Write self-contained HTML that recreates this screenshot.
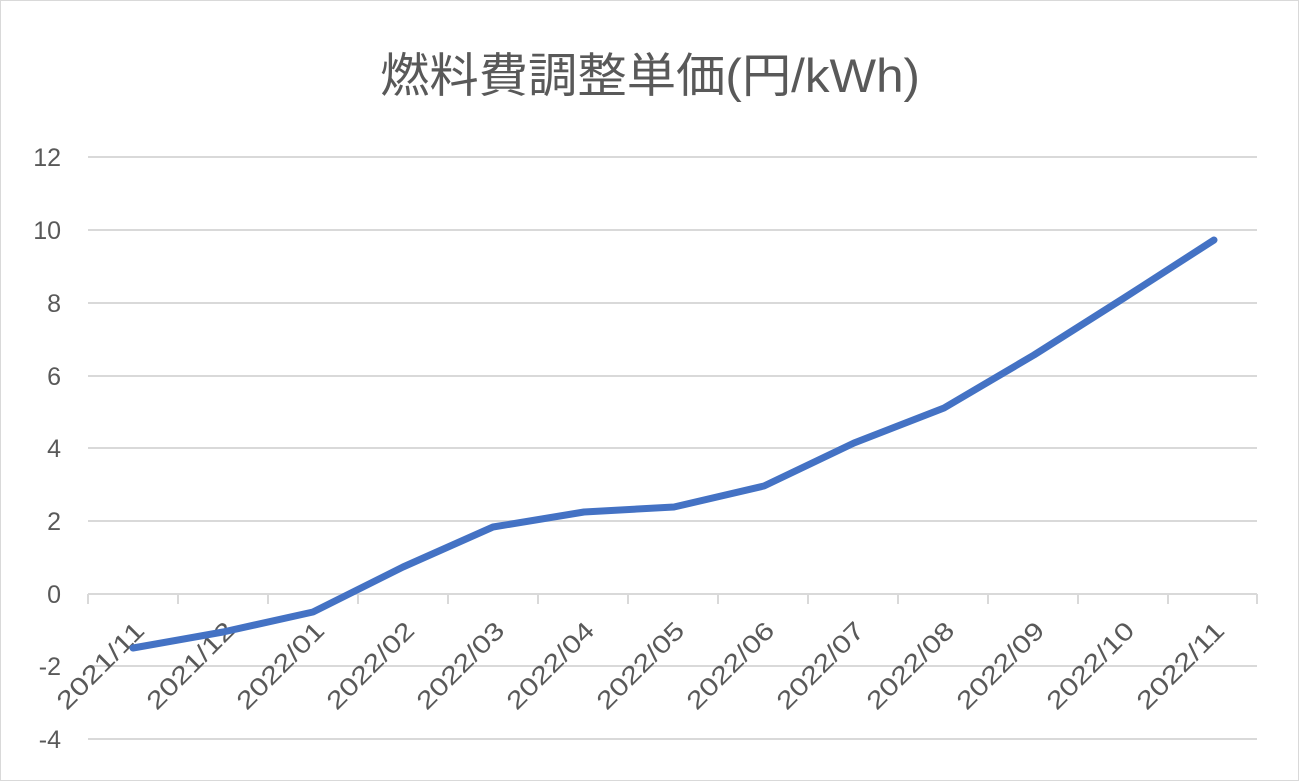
<!DOCTYPE html>
<html><head><meta charset="utf-8"><style>
html,body{margin:0;padding:0;background:#fff;}
svg{display:block;}
text{font-family:"Liberation Sans","Noto Sans CJK JP",sans-serif;fill:#595959;}
</style></head><body>
<svg width="1299" height="781" viewBox="0 0 1299 781">
<rect x="0.5" y="0.5" width="1298" height="780" fill="#fff" stroke="#d9d9d9"/>
<text x="650" y="92" font-size="47" text-anchor="middle" textLength="540" lengthAdjust="spacingAndGlyphs">燃料費調整単価(円/kWh)</text>
<g stroke="#d9d9d9" stroke-width="2">
<line x1="88" x2="1257" y1="157" y2="157"/>
<line x1="88" x2="1257" y1="230" y2="230"/>
<line x1="88" x2="1257" y1="303" y2="303"/>
<line x1="88" x2="1257" y1="376" y2="376"/>
<line x1="88" x2="1257" y1="448" y2="448"/>
<line x1="88" x2="1257" y1="521" y2="521"/>
<line x1="88" x2="1257" y1="666" y2="666"/>
<line x1="88" x2="1257" y1="739" y2="739"/>
<line x1="88" x2="1257" y1="594" y2="594"/>
<line x1="88" x2="88" y1="594" y2="604"/><line x1="178" x2="178" y1="594" y2="604"/>
<line x1="268" x2="268" y1="594" y2="604"/><line x1="358" x2="358" y1="594" y2="604"/>
<line x1="448" x2="448" y1="594" y2="604"/><line x1="538" x2="538" y1="594" y2="604"/>
<line x1="628" x2="628" y1="594" y2="604"/><line x1="718" x2="718" y1="594" y2="604"/>
<line x1="808" x2="808" y1="594" y2="604"/><line x1="898" x2="898" y1="594" y2="604"/>
<line x1="988" x2="988" y1="594" y2="604"/><line x1="1078" x2="1078" y1="594" y2="604"/>
<line x1="1168" x2="1168" y1="594" y2="604"/><line x1="1257" x2="1257" y1="594" y2="604"/>
</g>
<g font-size="25" text-anchor="end">
<text x="61" y="166">12</text><text x="61" y="239">10</text><text x="61" y="312">8</text>
<text x="61" y="385">6</text><text x="61" y="457">4</text><text x="61" y="530">2</text>
<text x="61" y="603">0</text><text x="61" y="675">-2</text><text x="61" y="748">-4</text>
</g>
<g font-size="25" text-anchor="end">
<text transform="translate(146,632) rotate(-45)" textLength="112" lengthAdjust="spacingAndGlyphs">2021/11</text>
<text transform="translate(236,632) rotate(-45)" textLength="112" lengthAdjust="spacingAndGlyphs">2021/12</text>
<text transform="translate(326,632) rotate(-45)" textLength="112" lengthAdjust="spacingAndGlyphs">2022/01</text>
<text transform="translate(416,632) rotate(-45)" textLength="112" lengthAdjust="spacingAndGlyphs">2022/02</text>
<text transform="translate(506,632) rotate(-45)" textLength="112" lengthAdjust="spacingAndGlyphs">2022/03</text>
<text transform="translate(596,632) rotate(-45)" textLength="112" lengthAdjust="spacingAndGlyphs">2022/04</text>
<text transform="translate(686,632) rotate(-45)" textLength="112" lengthAdjust="spacingAndGlyphs">2022/05</text>
<text transform="translate(776,632) rotate(-45)" textLength="112" lengthAdjust="spacingAndGlyphs">2022/06</text>
<text transform="translate(866,632) rotate(-45)" textLength="112" lengthAdjust="spacingAndGlyphs">2022/07</text>
<text transform="translate(956,632) rotate(-45)" textLength="112" lengthAdjust="spacingAndGlyphs">2022/08</text>
<text transform="translate(1046,632) rotate(-45)" textLength="112" lengthAdjust="spacingAndGlyphs">2022/09</text>
<text transform="translate(1136,632) rotate(-45)" textLength="112" lengthAdjust="spacingAndGlyphs">2022/10</text>
<text transform="translate(1226,632) rotate(-45)" textLength="112" lengthAdjust="spacingAndGlyphs">2022/11</text>
</g>
<polyline fill="none" stroke="#4472c4" stroke-width="7" stroke-linejoin="round" stroke-linecap="round"
points="133,648 223,632 313,612 403,567 493,527 584,512 674,507 764,486 854,443 944,408 1034,355 1124,298 1214,240"/>
</svg>
</body></html>
